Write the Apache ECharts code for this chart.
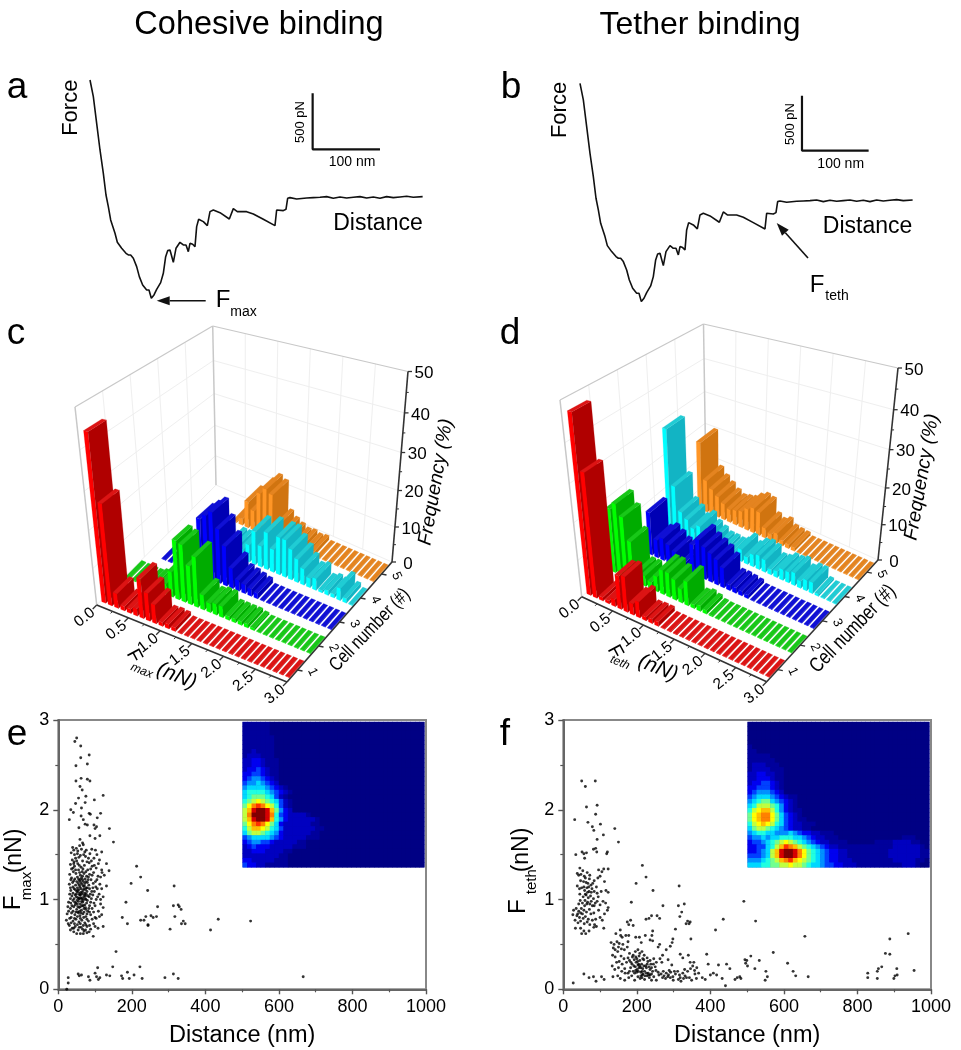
<!DOCTYPE html>
<html><head><meta charset="utf-8">
<style>html,body{margin:0;padding:0;background:#fff}#c{width:961px;height:1050px}</style>
<script src="https://cdn.jsdelivr.net/npm/echarts@6/dist/echarts.min.js"></script>
</head><body><div id="c"></div>
<script>
// ---------- force curves (nm, pN) ----------
const traceDistance=[0,5,10,15,20,24,27.5,31,37.5,41,47.5,54,57.5,61,65,70,74,79,85,88.5,92,96,100,106,110,113.5,116.5,120,125,129,135,140,144,147.5,150,154,157.5,160,163,170,176,180,185,195,209,215,221,235,245,260,277.5,280,290,294,296.5,300,310,325,335,345,355,365,375,385,395,405,415,425,435,445,455,465,475,485,499];
const traceForce=[1056,906,666,426,216,21,-84,-204,-324,-405,-459,-504,-519,-519,-549,-624,-714,-789,-834,-834,-909,-879,-828,-768,-684,-534,-480,-474,-585,-459,-405,-429,-429,-489,-414,-423,-444,-264,-198,-219,-255,-129,-114,-138,-195,-102,-129,-129,-150,-198,-255,-114,-120,-108,-9,-3,-15,-6,-3,0,6,-9,3,-6,0,6,-6,3,-9,6,-3,3,9,0,6];
const scaleBarDistA=[334,334,435],scaleBarForceA=[936,432,432];
const scaleBarDistB=[333,333,433],scaleBarForceB=[945,450,450];
// ---------- 3D histogram axes ----------
const binStarts=[0,.1,.2,.3,.4,.5,.6,.7,.8,.9,1,1.1,1.2,1.3,1.4,1.5,1.6,1.7,1.8,1.9,2,2.1,2.2,2.3,2.4,2.5,2.6,2.7,2.8,2.9];
const forceTicks=['0.0','0.5','1.0','1.5','2.0','2.5','3.0'];
const cellTicks=['1','2','3','4','5'];
const freqTicks=[0,10,20,30,40,50];
// ---------- panel c: Fmax frequency (%) per bin (0 = no bar drawn) ----------
const maxCell1=[44,27,4,1.2,1.2,2,10.6,7.4,5,1,1.2,1,.15,.15,.15,.15,.15,.15,.15,.15,.15,.15,.15,.15,.15,.15,.15,.15,.15,.15];
const maxCell2=[.3,.3,.3,.3,1,1.5,3,7,16,15.5,10.5,13.5,4,2.5,3,3,1,1,1,1,.6,.15,.15,.15,.15,.15,.15,.15,.15,.15];
const maxCell3=[0,0,.15,.15,.15,2,2,3,16,17.5,19,15,11,5.6,3,2.5,2,1.5,.15,.15,.15,.15,.15,.15,.15,.15,.15,.15,.15,.15];
const maxCell4=[0,0,0,0,0,0,0,0,0,3,3,3,5,9.5,6,10.5,6.5,10.5,10.5,8.5,6.5,4.5,2.6,3.2,.6,1.3,1,3.3,1.2,.2];
const maxCell5=[0,0,0,0,0,0,.3,2,8,6,12,14,13,4.5,3,2,1.2,1.5,1,1.3,.2,.2,.2,.2,.2,.2,.2,.2,.2,.2];
// ---------- panel d: Fteth frequency (%) per bin (0 = no bar drawn) ----------
const tethCell1=[47,33,1,.8,2,9,9.5,3,4.3,1,1.2,1.2,.15,.15,.15,.15,.15,.15,.15,.15,.15,.15,.15,.15,.15,.15,.15,.15,.15,.15];
const tethCell2=[18,20,17,11,3,3,2,4.3,6.7,6.7,5.6,3.8,6.5,1,1.5,1,.3,.15,.15,.15,.15,.15,.15,.15,.15,.15,.15,.15,.15,.15];
const tethCell3=[0,0,12.5,5.2,6.4,5.3,4,1,1,8.3,10.4,9,8,7,5.4,1.5,1.5,1.3,1,.15,.15,.15,.15,.15,.15,.15,.15,.15,.15,.15];
const tethCell4=[0,30,14,7,5.5,3.5,5,3,2,1,1,.8,1.5,3.5,2,3.5,4,3.5,1.5,1.8,3,3,3.5,2,3,3,.6,.2,.2,.2];
const tethCell5=[0,0,21,10,8,6.5,5,4,4.5,5,6.5,7.5,7,3,2,3,1.5,1.2,1,.2,.2,.2,.2,.2,.2,.2,.2,.2,.2,.2];
// ---------- panel e scatter (distance nm, Fmax nN) ----------
const scatterE=[[50,2.8],[45,2.76],[61,2.71],[84,2.61],[61,2.58],[79,2.51],[48,2.49],[48,2.32],[79,2.34],[86,2.32],[62,2.35],[59,2.26],[65,2.22],[55,2.13],[122,2.16],[98,2.11],[75,2.15],[47,2.07],[73,2.08],[34,2],[41,1.97],[30,1.89],[63,2.02],[62,1.93],[84,1.96],[87,1.95],[115,1.96],[106,1.91],[68,1.89],[73,1.84],[79,1.83],[56,1.8],[97,1.83],[104,1.81],[100,1.79],[139,1.79],[150,1.64],[113,1.71],[86,1.71],[100,1.68],[59,1.67],[66,1.63],[118,1.53],[131,1.4],[138,1.32],[131,1.15],[118,1.33],[157,.42],[213,1.37],[224,1.25],[198,1.18],[243,1.1],[315,1.15],[184,.97],[270,.92],[313,.93],[326,.94],[329,.92],[334,.89],[174,.8],[188,.73],[317,.81],[224,.77],[233,.77],[238,.81],[252,.82],[258,.8],[267,.81],[244,.72],[244,.71],[304,.67],[340,.76],[335,.73],[345,.73],[414,.66],[435,.78],[523,.76],[666,.14],[27,.13],[27,.07],[23,0],[54,.17],[63,.16],[57,.15],[82,.14],[86,.1],[100,.18],[107,.24],[104,.14],[109,.11],[113,.13],[131,.16],[140,.15],[148,.25],[172,.15],[175,.12],[188,.19],[193,.12],[206,.16],[222,.25],[228,.12],[290,.13],[313,.17],[326,.12],
[42,1.55],[35,1.52],[49,1.57],[58,1.6],[68,1.61],[76,1.55],[91,1.56],[38,1.44],[47,1.46],[56,1.47],[66,1.43],[74,1.48],[84,1.41],[97,1.46],[105,1.5],[112,1.44],[33,1.39],[44,1.37],[53,1.4],[62,1.36],[71,1.38],[80,1.33],[92,1.37],[103,1.35],[119,1.3],[31,1.28],[41,1.31],[48,1.29],[55,1.33],[60,1.27],[65,1.31],[70,1.29],[77,1.26],[85,1.28],[96,1.3],[108,1.26],[36,1.24],[45,1.23],[52,1.25],[57,1.21],[63,1.24],[68,1.2],[73,1.23],[79,1.19],[89,1.22],[101,1.2],[113,1.17],[30,1.17],[39,1.19],[47,1.16],[54,1.18],[59,1.14],[64,1.17],[71,1.15],[76,1.13],[83,1.16],[94,1.13],[106,1.12],[34,1.1],[43,1.12],[50,1.09],[56,1.11],[61,1.08],[67,1.1],[72,1.07],[78,1.09],[87,1.06],[98,1.09],[111,1.06],[122,1.03],[37,1.04],[46,1.05],[53,1.02],[58,1.05],[63,1.01],[69,1.03],[75,1],[81,1.04],[90,1.01],[103,1],[28,.97],[40,.99],[48,.96],[55,.98],[60,.95],[66,.97],[72,.94],[77,.96],[85,.93],[97,.96],[115,.95],[26,.92],[33,.9],[42,.92],[50,.89],[57,.91],[63,.88],[70,.9],[80,.87],[92,.9],[109,.87],[122,.91],[24,.84],[36,.85],[45,.83],[53,.86],[59,.82],[67,.84],[75,.81],[88,.83],[100,.8],[118,.83],[22,.77],[31,.79],[40,.76],[48,.78],[56,.75],[64,.77],[72,.74],[82,.76],[96,.73],[103,.79],[30,.71],[38,.68],[46,.7],[54,.66],[62,.69],[70,.65],[78,.7],[88,.67],[108,.68],[122,.7],[33,.66],[42,.64],[50,.62],[60,.62],[68,.62],[78,.63],[95,.59],[36,1.34],[43,1.42],[52,1.51],[69,1.5],[82,1.46],[60,1.22],[66,1.26],[58,1.06],[64,1.06],[70,1.12],[52,1.13],[74,1.04],[61,1.02],[56,1.01],[66,1.01],[49,1.03],[79,1.13],[72,1.18],[46,.94],[58,.87],[65,.93],[52,.95],[75,.89],
[39,1.58],[53,1.54],[63,1.56],[72,1.53],[86,1.51],[101,1.55],[44,1.5],[60,1.49],[78,1.42],[90,1.43],[50,1.43],[42,1.4],[57,1.38],[67,1.34],[75,1.31],[88,1.34],[98,1.38],[109,1.4],[40,1.35],[47,1.33],[58,1.3],[82,1.25],[92,1.27],[115,1.25],[125,1.27],[34,1.22],[42,1.21],[50,1.2],[55,1.23],[61,1.19],[66,1.22],[75,1.2],[81,1.22],[95,1.18],[105,1.22],[33,1.13],[40,1.14],[46,1.11],[52,1.1],[57,1.16],[62,1.12],[68,1.15],[74,1.11],[85,1.12],[91,1.09],[102,1.14],[118,1.12],[31,1.06],[40,1.07],[49,1.06],[54,1.08],[60,1.05],[65,1.08],[71,1.05],[76,1.06],[84,1.03],[94,1.05],[107,1.03],[115,1],[33,1.01],[43,1.01],[51,.99],[57,1.01],[63,.98],[68,.99],[73,1.01],[79,.99],[88,.97],[100,.93],[34,.96],[37,.93],[45,.97],[53,.92],[60,.92],[68,.93],[74,.91],[83,.9],[96,.86],[28,.87],[40,.87],[48,.86],[55,.85],[62,.85],[70,.86],[78,.84],[85,.86],[112,.81],[35,.8],[44,.79],[52,.81],[60,.79],[69,.8],[78,.78],[92,.78],[27,.73],[35,.74],[44,.73],[52,.72],[60,.73],[68,.71],[75,.72],[85,.71],[100,.7],[42,.68],[57,.69],[66,.67],[74,.66],[84,.64]];
// ---------- panel f scatter (distance nm, Fteth nN) ----------
const scatterF=[[50,2.32],[87,2.32],[60,2.26],[63,2.03],[92,2.05],[88,1.95],[31,1.89],[67,1.86],[101,1.84],[79,1.81],[83,1.77],[140,1.79],[109,1.72],[92,1.67],[150,1.64],[88,1.57],[82,1.56],[91,1.53],[120,1.53],[118,1.51],[34,1.5],[51,1.53],[56,1.51],[63,1.52],[58,1.46],[215,1.38],[225,1.25],[198,1.18],[315,1.15],[244,1.1],[185,.97],[271,.93],[313,.93],[329,.95],[491,.98],[322,.86],[317,.81],[338,.76],[342,.73],[334,.73],[345,.75],[435,.78],[523,.76],[414,.66],[305,.67],[657,.59],[938,.62],[888,.56],[347,.56],[571,.41],[876,.4],[888,.39],[610,.29],[625,.2],[632,.15],[666,.14],[866,.25],[857,.23],[854,.2],[828,.18],[828,.13],[854,.12],[907,.23],[908,.16],[902,.15],[899,.12],[954,.21],[510,.37],[533,.32],[494,.33],[499,.32],[496,.29],[501,.26],[521,.23],[551,.2],[555,.14],[549,.1],[444,.28],[453,.23],[390,.39],[394,.28],[422,.27],[408,.18],[417,.16],[432,.12],[441,.04],[467,.11],[473,.13],[480,.14],[483,.12],[27,.07],[56,.17],[70,.13],[82,.14],[89,.09],[104,.14],[111,.11],
[110,1.34],[122,1.34],[45,1.35],[53,1.32],[38,1.29],[42,1.27],[65,1.3],[72,1.27],[96,1.33],[105,1.31],[100,1.26],[94,1.24],[47,1.21],[55,1.2],[60,1.24],[67,1.18],[75,1.16],[84,1.21],[112,1.2],[38,1.15],[50,1.13],[58,1.1],[64,1.13],[70,1.09],[78,1.12],[90,1.14],[103,1.09],[116,1.1],[122,1.08],[45,1.06],[54,1.03],[62,1.05],[68,1.02],[74,1.04],[82,1.01],[95,1.03],[108,.98],[46,.99],[52,.96],[59,.99],[66,.97],[72,.95],[79,.93],[87,.96],[100,.94],[115,.96],[122,.91],[28,.88],[35,.9],[42,.87],[49,.9],[56,.88],[63,.86],[71,.89],[83,.85],[96,.88],[112,.84],[120,.88],[26,.83],[37,.82],[44,.8],[52,.84],[60,.81],[68,.78],[88,.78],[100,.8],[106,.77],[32,.77],[40,.74],[47,.76],[57,.73],[65,.75],[33,.68],[47,.68],[56,.65],[61,.62],[50,.62],[70,.65],[83,.69],[90,.7],[110,.68],[72,.72],[85,.72],
[155,.66],[143,.62],[130,.52],[138,.5],[146,.53],[152,.51],[158,.45],[170,.6],[178,.6],[178,.72],[174,.75],[183,.77],[190,.71],[197,.58],[207,.58],[212,.52],[223,.6],[225,.78],[233,.79],[240,.82],[255,.82],[262,.79],[243,.65],[241,.6],[236,.55],[243,.54],[262,.5],[258,.47],[280,.44],[298,.56],[296,.52],[291,.48],[136,.46],[141,.44],[148,.42],[166,.44],[174,.47],[180,.4],[188,.36],[196,.42],[203,.44],[208,.4],[214,.42],[220,.38],[134,.38],[141,.36],[152,.31],[157,.37],[165,.34],[172,.3],[180,.32],[187,.28],[193,.33],[198,.3],[203,.27],[208,.32],[213,.28],[219,.33],[224,.26],[230,.31],[238,.28],[246,.34],[253,.3],[263,.34],[270,.38],[268,.3],[285,.33],[295,.27],[133,.26],[140,.22],[150,.24],[159,.2],[167,.23],[176,.18],[183,.24],[190,.2],[196,.25],[201,.22],[206,.24],[211,.19],[216,.23],[221,.2],[226,.24],[231,.18],[236,.22],[243,.2],[250,.25],[258,.19],[266,.17],[274,.15],[280,.18],[286,.16],[292,.19],[298,.14],[305,.17],[311,.2],[318,.13],[325,.18],[331,.15],[338,.2],[346,.23],[352,.26],[357,.21],[363,.24],[368,.18],[345,.3],[325,.35],[318,.39],[340,.38],[355,.3],[135,.14],[148,.15],[155,.12],[167,.1],[178,.13],[186,.15],[194,.1],[203,.14],[209,.12],[215,.16],[221,.11],[228,.15],[234,.13],[240,.1],[236,.16],[246,.14],[253,.1],[270,.13],[278,.12],[284,.14],[291,.13],[299,.1],[313,.11],[320,.09],[327,.12],[335,.13],[349,.1],[362,.12],[378,.13],[386,.11],[400,.16],[194,.18],[200,.19],[205,.28],[211,.24],[217,.17],[197,.36],[226,.18],[211,.15],
[48,1.28],[57,1.26],[62,1.19],[71,1.23],[80,1.18],[44,1.12],[56,1.14],[69,1.14],[84,1.09],[92,1.07],[60,1.06],[66,1.08],[76,1.08],[58,.93],[64,.95],[76,.98],[84,.93],[92,.98],[42,.95],[39,.84],[47,.85],[54,.79],[75,.84],[79,.77],
[190,.38],[200,.34],[206,.37],[216,.34],[228,.35],[236,.32],[192,.26],[197,.21],[204,.2],[208,.26],[214,.2],[219,.26],[228,.28],[233,.25],[240,.24],[245,.28],[252,.21],[202,.31],[184,.3],[176,.35],[160,.28],[145,.3],[168,.18],[180,.2],[214,.13],[222,.15],[232,.16],[240,.17],[260,.16],[288,.21],[272,.2],[302,.2],[316,.16],[358,.17],[343,.13],[330,.22],[176,.53],[162,.5],[150,.47],[160,.58],[156,.6]];
// ---------- inset density maps: one row per line, one hex level per cell ----------
const densityE=["111111","111111","111111","1111111","1111111","1111111","1121111","1222111","22332111","22332111","23343211","33443211","34554321","45565432","5666654321","67777654321","6788876421","789a9876421","8acdca97421","9beffeb8532","9cfffec74322221","9beffeb7532222221","8acdca86322222211","79bba9764222222211","68998765322222211","45666654322222111","34554432222211","23433322222111","22333222211","2222222211","3322222111","4332211111"];
const densityF=["0000","0000","0000","0000","0000","10000","1100","11111","111111","1222111","12222111","22332211","22333211","23344321","33444321","34555432","45666543211","56788654321","67999875321","79abb9753211","8abcca864321","8abcca8643211","79aba9764322111","68998765432211","56776655565433221110","45565667776654322111000000000000001110","34456789a987654322111100000011112222110","3344679bdcb98765432211111111111122222210","334569beffeca876543322111111111222222211","444569beffeca876543322111111111222222211","5556789bcdba987654332221111111112222211","666778899a9987665443322211111111112221"];
const densityCols=40,densityRows=32;
// ---------- text ----------
const panelTitles=['Cohesive binding','Tether binding'];

const FONT='"Liberation Sans",Arial,sans-serif';
const jet=['#000084','#00009c','#0000c0','#0000f0','#0040ff','#0090ff','#00d8ff','#20ffe0','#70ff90','#c0ff40','#ffff00','#ffc000','#ff8000','#ff3000','#d80000','#800000'];
function T(text,x,y,size,o={}){return {type:'text',x,y,rotation:(o.rot||0)*Math.PI/180,scaleY:o.sy||1,silent:true,z:o.z||50,
  style:{text,fontSize:size,fontFamily:FONT,fontStyle:o.italic?'italic':'normal',fill:o.fill||'#000',align:'center',verticalAlign:'middle',textAlign:'center',textVerticalAlign:'middle'}};}
function heatData(rows){const out=[];for(let r=0;r<densityRows;r++){const s=(rows[r]||'').padEnd(densityCols,'0');for(let c=0;c<densityCols;c++)out.push([c,r,parseInt(s[c],16)]);}return out;}

// 3D box corners on the page
const boxC={O:[96.7,605],X:[287,682],Y:[392,562],B:[216,485],LT:[75,407],FT:[284,452],RT:[408,371.5],BT:[212.7,326]};
const boxD={O:[581.7,596.7],X:[766.7,681.7],Y:[878,560],B:[706,483],LT:[560,400],FT:[764,450],RT:[898,368],BT:[703.5,324]};
const lerp=(a,b,t)=>[a[0]+(b[0]-a[0])*t,a[1]+(b[1]-a[1])*t];
function project(C,nx,ny,s){
  const t=s/(1+.11*(1-s));
  const b=lerp(lerp(C.O,C.X,nx),lerp(C.B,C.Y,nx),ny);
  const u=lerp(lerp(C.LT,C.FT,nx),lerp(C.BT,C.RT,nx),ny);
  return lerp(b,u,t);
}
function mapper(api,params,C){
  const cs=params.coordSys;
  return (x,cell,z)=>{const p=api.coord([x,z]);return project(C,(p[0]-cs.x)/cs.width,cell/5,(cs.y+cs.height-p[1])/cs.height);};
}
function barSeries(name,values,cell,cols,idx,C){
  return {type:'custom',name,xAxisIndex:idx,yAxisIndex:idx,silent:true,animation:false,clip:false,
    data:values.map((v,i)=>[binStarts[i],v,cell]),encode:{x:0,y:1},
    renderItem(params,api){
      const P=mapper(api,params,C),x0=api.value(0),h=api.value(1),k=api.value(2)-1;
      if(!(h>0))return null;
      const a=x0+.02,b=x0+.085,c=k+.16,d=k+.84;
      const face=(pts,fill)=>({type:'polygon',shape:{points:pts},style:{fill,stroke:fill,lineWidth:.2}});
      return {type:'group',children:[
        face([P(a,c,0),P(b,c,0),P(b,c,h),P(a,c,h)],cols[0]),
        face([P(b,c,0),P(b,d,0),P(b,d,h),P(b,c,h)],cols[1]),
        face([P(a,c,h),P(b,c,h),P(b,d,h),P(a,d,h)],cols[2])
      ]};
    }};
}
function frameSeries(idx,C,lab){
  return {type:'custom',xAxisIndex:idx,yAxisIndex:idx,silent:true,animation:false,clip:false,data:[[0,0]],encode:{x:0,y:1},
    renderItem(params,api){
      const P=mapper(api,params,C),ch=[];
      const L=(a,b,col,w)=>ch.push({type:'line',shape:{x1:a[0],y1:a[1],x2:b[0],y2:b[1]},style:{stroke:col,lineWidth:w}});
      const grid='#efefef',edge='#c8c8c8';
      forceTicks.forEach(t=>{const x=+t;if(x>0&&x<3)L(P(x,5,0),P(x,5,50),grid,1);});
      cellTicks.forEach((t,i)=>{if(i<4)L(P(0,i+1,0),P(0,i+1,50),grid,1);});
      freqTicks.forEach(z=>{if(z>0&&z<50){L(P(0,0,z),P(0,5,z),grid,1);L(P(0,5,z),P(3,5,z),grid,1);}});
      L(P(0,0,0),P(0,5,0),grid,1);L(P(0,5,0),P(3,5,0),grid,1);
      L(P(0,0,0),P(0,0,50),edge,1.5);L(P(0,0,50),P(0,5,50),edge,1.2);L(P(0,5,50),P(3,5,50),edge,1.2);L(P(0,5,0),P(0,5,50),edge,1.5);
      // axes
      L(P(0,0,0),P(3,0,0),'#333',1.6);L(P(3,0,0),P(3,5,0),'#333',1.6);L(P(3,5,0),P(3,5,50),'#333',1.6);
      forceTicks.forEach(t=>{const a=P(+t,0,0);L(a,[a[0]-4,a[1]+4],'#333',1.3);ch.push(T(t,a[0]-12,a[1]+12.5,15.5,{rot:38}));});
      [.25,.75,1.25,1.75,2.25,2.75].forEach(x=>{const a=P(x,0,0);L(a,[a[0]-2,a[1]+2],'#333',1);});
      cellTicks.forEach((t,i)=>{const a=P(3,i+.5,0);L(a,[a[0]+5,a[1]+1],'#333',1.3);ch.push(T(t,a[0]+15,a[1]+2,13,{rot:-65}));});
      freqTicks.forEach(z=>{const a=P(3,5,z);L(a,[a[0]+4,a[1]],'#333',1.3);ch.push(T(String(z),a[0]+16,a[1]+2,17));if(z<50){const m=P(3,5,z+5);L(m,[m[0]+2.5,m[1]],'#333',1);}});
      lab.forEach(l=>ch.push(T(l[0],l[1],l[2],l[3],l[4])));
      return {type:'group',children:ch};
    }};
}
const PAL={red:['#ff0000','#b00000','#dc1414'],green:['#00ff00','#00ac00','#18c818'],blue:['#0000ff','#0000b4','#1010d4'],cyan:['#00ffff','#12b4c4','#20ccd4'],orange:['#ff9626','#d07410','#e48420']};

const hidden=(gi,min,max)=>({type:'value',gridIndex:gi,min,max,show:false,splitLine:{show:false}});
const scatterX=gi=>({type:'value',gridIndex:gi,min:0,max:1000,interval:200,minorTick:{show:true,splitNumber:2,length:3,lineStyle:{color:'#555',width:1.2}},axisLine:{onZero:false,lineStyle:{color:'#666',width:2}},axisTick:{length:5,lineStyle:{color:'#555',width:1.4}},axisLabel:{fontSize:18,fontFamily:FONT,color:'#000',margin:9,formatter:v=>String(v),showMinLabel:true,showMaxLabel:true},splitLine:{show:false},minorSplitLine:{show:false},name:'Distance (nm)',nameLocation:'middle',nameGap:34,nameTextStyle:{fontSize:23.5,fontFamily:FONT,color:'#000'}});
const scatterY=gi=>({type:'value',gridIndex:gi,min:0,max:3,interval:1,minorTick:{show:true,splitNumber:2,length:3,lineStyle:{color:'#555',width:1.2}},axisLine:{onZero:false,lineStyle:{color:'#666',width:2}},axisTick:{length:5,lineStyle:{color:'#555',width:1.4}},axisLabel:{fontSize:18,fontFamily:FONT,color:'#000',margin:9},splitLine:{show:false},minorSplitLine:{show:false}});
const heatAxis=(gi,n,inv)=>({type:'category',gridIndex:gi,show:false,inverse:!!inv,data:Array.from({length:n},(_,i)=>i)});
const lineS=(x,y,idx,w)=>({type:'line',xAxisIndex:idx,yAxisIndex:idx,data:x.map((v,i)=>[v,y[i]]),showSymbol:false,silent:true,animation:false,lineStyle:{color:'#111',width:w},clip:false});
const scatterS=(data,idx)=>({type:'scatter',xAxisIndex:idx,yAxisIndex:idx,data,symbolSize:2.9,silent:true,animation:false,itemStyle:{color:'#000'}});
const heatS=(rows,idx)=>({type:'heatmap',xAxisIndex:idx,yAxisIndex:idx,data:heatData(rows),silent:true,animation:false,itemStyle:{borderWidth:0}});

const series=[
  lineS(traceDistance,traceForce,0,1.6),lineS(scaleBarDistA,scaleBarForceA,0,2.2),
  lineS(traceDistance,traceForce,1,1.6),lineS(scaleBarDistB,scaleBarForceB,1,2.2),
  scatterS(scatterE,4),scatterS(scatterF,5),
  frameSeries(2,boxC,[['Frequency (%)',436,482,19.5,{rot:80,italic:true}],['Cell number (#)',370,630,15.5,{rot:46,sy:1.25}],['F',134,656,20,{rot:-62}],['max',141.7,671,12,{rot:-22,italic:true}],['(nN)',176.7,676,21,{rot:-22,italic:true}]]),
  barSeries('cell5',maxCell5,5,PAL.orange,2,boxC),barSeries('cell4',maxCell4,4,PAL.cyan,2,boxC),barSeries('cell3',maxCell3,3,PAL.blue,2,boxC),barSeries('cell2',maxCell2,2,PAL.green,2,boxC),barSeries('cell1',maxCell1,1,PAL.red,2,boxC),
  frameSeries(3,boxD,[['Frequency (%)',922,477,19.5,{rot:80,italic:true}],['Cell number (#)',853,629,16.5,{rot:46,sy:1.25}],['F',615,651.7,20,{rot:-62}],['teth',620,662.7,12,{rot:-22,italic:true}],['(nN)',658,668,21,{rot:-22,italic:true}]]),
  barSeries('cell5',tethCell5,5,PAL.orange,3,boxD),barSeries('cell4',tethCell4,4,PAL.cyan,3,boxD),barSeries('cell3',tethCell3,3,PAL.blue,3,boxD),barSeries('cell2',tethCell2,2,PAL.green,3,boxD),barSeries('cell1',tethCell1,1,PAL.red,3,boxD),
  heatS(densityE,6),heatS(densityF,7)
];
const heatIdx=[series.length-2,series.length-1];
const arrow=(x1,y1,x2,y2)=>{const a=Math.atan2(y2-y1,x2-x1),h=13,w=4.5;
  const bx=x2-h*Math.cos(a),by=y2-h*Math.sin(a),nx=-Math.sin(a)*w,ny=Math.cos(a)*w;
  return [{type:'line',silent:true,shape:{x1,y1,x2:bx,y2:by},style:{stroke:'#111',lineWidth:1.6}},{type:'polygon',silent:true,shape:{points:[[x2,y2],[bx+nx,by+ny],[bx-nx,by-ny]]},style:{fill:'#111'}}];};
const graphics=[
  T(panelTitles[0],259,25,32.5),T(panelTitles[1],700,25,32),
  T('a',17,88,37),T('b',511,88,37),T('c',16,334,37),T('d',510,334,37),T('e',17,735,37),T('f',505,735,37),
  T('Force',70.7,107.7,22,{rot:90}),T('Force',560,110,22,{rot:90}),
  T('Distance',378,224,23),T('Distance',867.6,226.7,23),
  T('500 pN',300,122,13,{rot:90}),T('100 nm',352,162,14),T('500 pN',790,124,13,{rot:90}),T('100 nm',840.7,164,14),
  T('F',223,300,24),T('max',243.5,312,14),T('F',817,285,24),T('teth',837,296,14),
  T('F',13,903,24,{rot:90}),T('max',26.5,886,15,{rot:90}),T('(nN)',15,851,23,{rot:90}),
  T('F',518.3,906.7,24,{rot:90}),T('teth',531.7,881.7,15,{rot:90}),T('(nN)',521.7,850,23,{rot:90}),
  ...arrow(205.7,300.7,156.7,300.7),...arrow(808,258,776.7,223)
];
const chart=echarts.init(document.getElementById('c'),null,{renderer:'canvas'});
chart.setOption({
  animation:false,backgroundColor:'#fff',tooltip:{show:false},
  grid:[
    {left:90,top:64,width:333.3,height:244.4},
    {left:580,top:67.3,width:333.3,height:244.4},
    {left:60,top:320,width:370,height:380},
    {left:545,top:320,width:370,height:380},
    {left:58.3,top:720,width:367.7,height:269.3,show:true,borderColor:'#888',borderWidth:2,backgroundColor:'transparent'},
    {left:563.3,top:720,width:367.7,height:269.3,show:true,borderColor:'#888',borderWidth:2,backgroundColor:'transparent'},
    {left:242.7,top:722,width:181.6,height:145.3,show:true,backgroundColor:'#000084',borderWidth:0},
    {left:747.7,top:722,width:181.6,height:145.3,show:true,backgroundColor:'#000084',borderWidth:0}
  ],
  xAxis:[hidden(0,0,500),hidden(1,0,500),hidden(2,0,3),hidden(3,0,3),scatterX(4),scatterX(5),heatAxis(6,densityCols),heatAxis(7,densityCols)],
  yAxis:[hidden(0,-1000,1200),hidden(1,-1000,1200),hidden(2,0,50),hidden(3,0,50),scatterY(4),scatterY(5),heatAxis(6,densityRows,true),heatAxis(7,densityRows,true)],
  visualMap:[{show:false,seriesIndex:heatIdx,min:0,max:15,dimension:2,inRange:{color:jet}}],
  series,graphic:{elements:graphics}
});
</script></body></html>
